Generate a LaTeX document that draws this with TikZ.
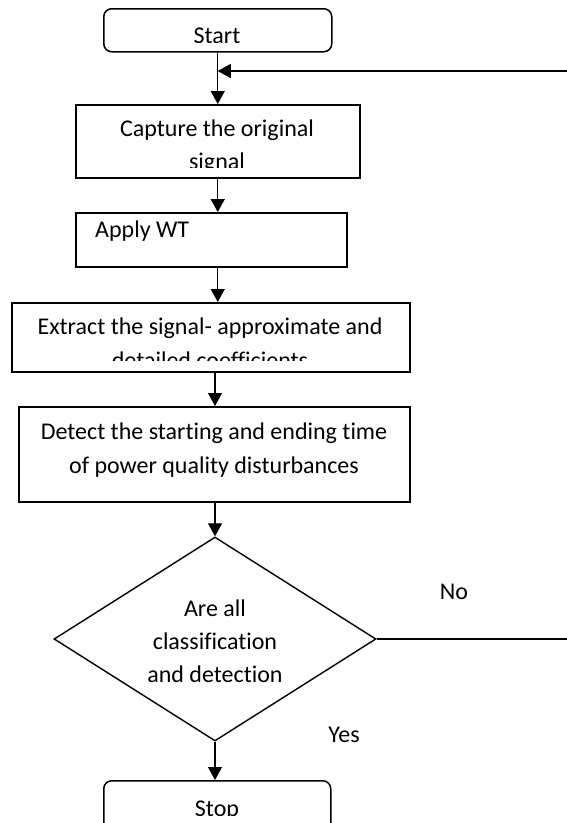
\documentclass[tikz,border=0pt]{standalone}
\usepackage{fontspec}
\setmainfont[Ligatures=NoCommon]{Carlito}
\usetikzlibrary{arrows.meta,shapes.geometric}
\begin{document}
\begin{tikzpicture}[x=1pt,y=-1pt,
  box/.style={draw,line width=1.5pt,rectangle,inner sep=0pt,anchor=north west},
  rbox/.style={box,rounded corners=8pt},
  decbox/.style={draw,line width=1.4pt,diamond,inner sep=0pt},
  lbl/.style={font=\fontsize{24}{33}\selectfont,inner sep=0pt,anchor=base},
  conn/.style={line width=1.3pt,-{Triangle[length=13pt,width=14pt]}},
  plain/.style={line width=1.3pt}]
\useasboundingbox (0,0) rectangle (567,823);
% boxes
\node[rbox,minimum width=228pt,minimum height=43pt] (start) at (103,8) {};
\node[box,minimum width=284pt,minimum height=73pt] (capture) at (75,104) {};
\node[box,minimum width=271pt,minimum height=54pt] (apply) at (75,212) {};
\node[box,minimum width=398pt,minimum height=69pt] (extract) at (11,302) {};
\node[box,minimum width=391pt,minimum height=95pt] (detect) at (18,406) {};
\node[decbox,minimum width=322pt,minimum height=204pt] (dec) at (215,639) {};
\node[rbox,minimum width=227pt,minimum height=50pt] (stop) at (103,780) {};
% texts
\begin{scope}
  \clip (103,8) rectangle (331,42);
  \node[lbl] (tstart) at (217,43) {Start};
\end{scope}
\node[lbl] (tcap1) at (217,136) {Capture the original};
\begin{scope}
  \clip (75,104) rectangle (359,167);
  \node[lbl] (tcap2) at (217,169) {signal};
\end{scope}
\node[lbl,anchor=base west] (tapply) at (95,237) {Apply WT};
\node[lbl] (text1) at (210,334) {Extract the signal- approximate and};
\begin{scope}
  \clip (11,302) rectangle (409,360);
  \node[lbl] (text2) at (210,368) {detailed coefficients};
\end{scope}
\node[lbl] (tdet1) at (214,439) {Detect the starting and ending time};
\node[lbl] (tdet2) at (214,473) {of power quality disturbances};
\node[lbl] (tq1) at (215,616) {Are all};
\node[lbl] (tq2) at (215,649) {classification};
\node[lbl] (tq3) at (215,682) {and detection};
\node[lbl] (tno) at (454,599) {No};
\node[lbl] (tyes) at (344,742) {Yes};
\begin{scope}
  \clip (103,780) rectangle (330,815);
  \node[lbl] (tstop) at (217,816) {Stop};
\end{scope}
% connectors
\coordinate (fbstart) at (580,71);
\coordinate (noend) at (580,639);
\draw[conn] (start.south) -- (capture.north -| start.south);
\draw[conn] (fbstart) -- (fbstart -| start.south);
\draw[conn] (capture.south -| start.south) -- (apply.north -| start.south);
\draw[conn] (apply.south -| start.south) -- (extract.north -| start.south);
\draw[conn] (extract.south -| dec.north) -- (detect.north -| dec.north);
\draw[conn] (detect.south -| dec.north) -- (dec.north);
\draw[conn] (dec.south) -- (stop.north -| dec.south);
\draw[plain] (dec.east) -- (noend);
\end{tikzpicture}
\end{document}
